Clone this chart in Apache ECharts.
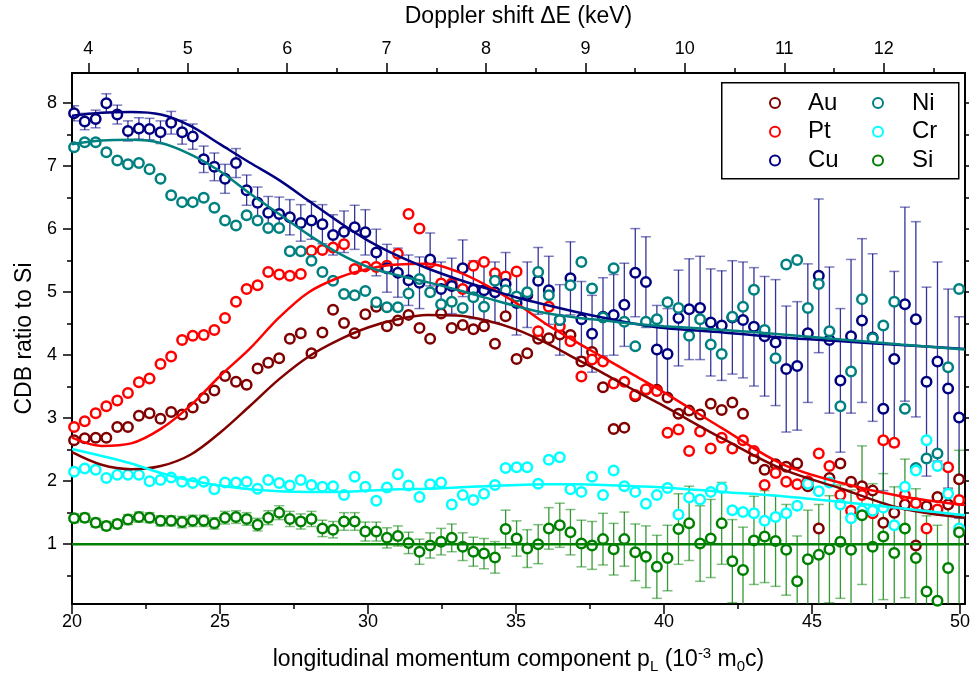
<!DOCTYPE html>
<html><head><meta charset="utf-8">
<script src="https://cdn.jsdelivr.net/npm/echarts@6/dist/echarts.min.js"></script>
<style>html,body{margin:0;padding:0;background:#fff}#c{width:973px;height:679px}</style>
</head><body><div id="c"></div>
<script>
// longitudinal momentum (10^-3 m0c) of each measured point
const pL = [20.07,20.43,20.80,21.16,21.53,21.89,22.26,22.62,22.99,23.35,23.72,24.08,24.45,24.81,25.17,25.54,25.90,26.27,26.63,27.00,
  27.36,27.73,28.09,28.46,28.82,29.19,29.55,29.91,30.28,30.64,31.01,31.37,31.74,32.10,32.47,32.83,33.20,33.56,33.92,34.29,
  34.65,35.02,35.38,35.75,36.11,36.48,36.84,37.21,37.57,37.94,38.30,38.66,39.03,39.39,39.76,40.12,40.49,40.85,41.22,41.58,
  41.95,42.31,42.67,43.04,43.40,43.77,44.13,44.50,44.86,45.23,45.59,45.96,46.32,46.69,47.05,47.41,47.78,48.14,48.51,48.87,
  49.24,49.60,49.97];
const au = [2.65,2.68,2.69,2.69,2.86,2.86,3.04,3.08,2.99,3.10,3.06,3.17,3.32,3.44,3.67,3.58,3.53,3.79,3.88,3.95,
  4.26,4.35,4.03,4.36,4.72,4.51,4.35,4.65,4.77,4.46,4.55,4.64,4.43,4.26,4.66,4.43,4.48,4.41,4.46,4.18,
  4.62,3.94,4.03,4.26,4.27,4.33,4.32,3.90,4.05,3.49,2.83,2.85,3.35,3.45,3.45,3.33,3.07,3.12,3.06,3.23,
  3.13,3.25,3.07,2.36,2.18,2.27,2.23,2.28,1.92,1.25,2.05,2.28,1.99,1.92,1.85,1.34,1.50,1.63,0.98,1.60,
  1.75,1.63,2.03];
const pt = [2.86,2.95,3.08,3.19,3.28,3.40,3.57,3.63,3.86,3.98,4.24,4.31,4.32,4.40,4.59,4.85,5.05,5.11,5.32,5.28,
  5.26,5.29,5.66,5.67,5.71,5.76,5.37,5.41,5.40,5.42,5.61,6.24,6.01,5.47,5.14,5.14,5.05,5.42,5.48,5.30,
  5.25,5.33,4.95,4.38,4.77,4.46,4.22,3.66,3.93,3.90,3.55,3.58,3.37,3.46,3.43,2.77,2.82,2.48,2.79,2.52,
  2.69,2.52,2.65,2.48,1.94,2.13,1.99,1.95,2.00,2.44,2.24,1.78,1.53,1.78,1.49,2.65,2.61,1.78,1.65,1.25,
  1.55,2.22,1.70];
const cu = [7.84,7.71,7.75,8.00,7.82,7.56,7.60,7.59,7.54,7.69,7.54,7.47,7.11,6.99,6.80,7.05,6.62,6.42,6.26,6.24,
  6.19,6.10,6.14,6.08,5.91,5.96,6.03,5.95,5.63,5.38,5.31,5.19,5.15,5.52,5.05,5.10,5.38,5.04,5.03,5.00,
  5.13,4.83,4.96,5.18,5.03,4.56,5.22,4.57,4.34,4.61,4.64,4.80,5.31,5.16,4.09,4.02,4.59,4.73,4.75,4.52,
  4.47,4.60,4.56,4.45,4.30,4.20,3.78,3.83,4.35,5.26,4.24,3.60,4.30,4.55,4.28,3.15,3.94,4.81,4.57,3.58,
  3.90,3.47,3.01];
const cuErr = [0.12,0.13,0.14,0.15,0.15,0.16,0.17,0.17,0.18,0.18,0.19,0.20,0.21,0.22,0.23,0.23,0.24,0.25,0.26,0.27,
  0.28,0.29,0.30,0.31,0.32,0.33,0.35,0.36,0.37,0.38,0.39,0.40,0.41,0.42,0.43,0.44,0.45,0.46,0.47,0.48,
  0.50,0.51,0.52,0.53,0.54,0.56,0.58,0.60,0.61,0.62,0.64,0.66,0.70,0.72,0.70,0.72,0.76,0.80,0.82,0.85,
  0.87,0.90,0.92,0.94,0.95,1.00,1.00,1.02,1.10,1.22,1.16,1.14,1.22,1.30,1.33,1.30,1.39,1.54,1.55,1.50,
  1.58,1.58,1.60];
const ni = [7.30,7.38,7.38,7.22,7.09,7.03,7.05,6.95,6.80,6.54,6.43,6.43,6.50,6.34,6.14,6.06,6.22,6.14,6.02,6.02,
  5.65,5.65,5.50,5.32,5.18,4.97,4.95,5.02,4.84,4.76,4.76,4.98,5.21,5.00,4.81,4.85,4.75,4.92,4.77,5.18,
  5.03,4.93,5.00,5.32,4.95,4.56,5.11,5.48,5.06,4.60,5.38,4.53,4.14,4.53,4.57,4.84,4.75,4.31,4.57,4.17,
  4.02,4.61,4.77,5.04,4.40,3.95,5.44,5.51,4.75,5.13,4.38,3.19,3.74,4.89,4.27,4.47,4.85,3.15,2.21,2.36,
  2.44,3.81,5.05];
const cr = [2.15,2.20,2.18,2.05,2.10,2.10,2.10,2.00,2.02,2.06,1.99,1.97,1.99,1.87,1.98,1.98,1.99,1.88,2.02,1.97,
  1.93,2.02,1.94,1.91,1.92,1.78,2.07,1.91,1.69,1.90,2.11,1.93,1.75,1.95,1.98,1.63,1.78,1.70,1.80,1.94,
  2.21,2.22,2.22,1.96,2.34,2.38,1.87,1.83,2.07,1.78,2.17,1.92,1.83,1.64,1.78,1.89,1.47,1.74,1.71,1.83,
  1.89,1.54,1.51,1.49,1.37,1.43,1.49,1.61,1.96,1.84,1.98,1.63,1.41,1.54,1.53,1.58,1.30,1.91,2.17,2.65,
  2.24,1.80,1.25];
const si = [1.41,1.42,1.34,1.29,1.32,1.39,1.43,1.42,1.37,1.37,1.35,1.37,1.37,1.33,1.42,1.43,1.40,1.31,1.42,1.50,
  1.40,1.36,1.40,1.25,1.23,1.36,1.36,1.20,1.20,1.10,1.13,1.02,0.88,0.98,1.04,1.10,0.96,0.88,0.85,0.79,
  1.24,1.09,0.93,1.00,1.25,1.30,1.19,1.01,0.98,1.08,0.92,1.08,0.87,0.80,0.64,0.78,1.24,1.33,1.01,1.09,
  1.33,0.73,0.59,1.06,1.12,1.05,0.91,0.41,0.76,0.83,0.92,1.04,0.91,1.46,0.96,1.12,0.86,1.25,0.78,0.25,
  0.10,0.62,1.19];
const siErr = [0.07,0.07,0.07,0.07,0.07,0.08,0.08,0.08,0.08,0.08,0.09,0.09,0.09,0.09,0.10,0.10,0.10,0.10,0.11,0.11,
  0.12,0.12,0.12,0.13,0.13,0.14,0.14,0.15,0.15,0.16,0.16,0.17,0.20,0.20,0.21,0.22,0.22,0.23,0.24,0.25,
  0.30,0.28,0.30,0.31,0.33,0.35,0.36,0.37,0.38,0.41,0.41,0.43,0.45,0.49,0.50,0.52,0.56,0.59,0.60,0.62,
  0.65,0.66,0.68,0.70,0.73,0.72,0.72,0.72,0.78,0.80,0.85,0.90,0.95,1.10,1.00,1.00,1.05,1.10,1.10,1.20,
  1.20,1.25,1.30];

// fitted curves, sampled along pL
const fitX  = [20,21,22,23,24,25,26,27,28,29,30,31,32,33,34,35,36,37,38,39,40,42,44,46,48,50.17];
const auFit = [2.46,2.26,2.19,2.24,2.42,2.77,3.19,3.62,3.98,4.24,4.44,4.57,4.64,4.63,4.55,4.41,4.20,3.95,3.70,3.44,3.19,2.67,2.19,1.88,1.57,1.42];
const ptFit = [2.69,2.56,2.60,2.83,3.20,3.67,4.10,4.60,5.00,5.23,5.37,5.44,5.45,5.33,5.11,4.83,4.50,4.22,3.95,3.68,3.41,2.83,2.27,1.97,1.76,1.62];
const cuFit = [7.80,7.85,7.86,7.82,7.64,7.35,7.06,6.78,6.45,6.12,5.82,5.58,5.38,5.21,5.06,4.92,4.80,4.69,4.59,4.50,4.43,4.36,4.28,4.22,4.16,4.10];
const niFit = [7.35,7.41,7.42,7.37,7.19,6.92,6.57,6.24,5.91,5.62,5.40,5.27,5.16,5.04,4.91,4.78,4.67,4.60,4.55,4.50,4.46,4.40,4.33,4.25,4.17,4.09];
const crFit = [2.51,2.40,2.28,2.13,2.01,1.93,1.87,1.84,1.83,1.83,1.85,1.87,1.88,1.90,1.92,1.94,1.95,1.95,1.94,1.92,1.90,1.83,1.76,1.67,1.57,1.46];
const siFitX = [20,50.17];
const siFit = [1,1];

// axis ticks
const xTicks = [20,25,30,35,40,45,50];
const xMinor = [22.5,27.5,32.5,37.5,42.5,47.5];
const keVTicks = [4,5,6,7,8,9,10,11,12];
const keVMinor = [4.5,5.5,6.5,7.5,8.5,9.5,10.5,11.5,12.5];
const yTicks = [1,2,3,4,5,6,7,8];
const yMinor = [0.5,1.5,2.5,3.5,4.5,5.5,6.5,7.5];
const yRight = [0.5,1,1.5,2,2.5,3,3.5,4,4.5,5,5.5,6,6.5,7,7.5,8];

const names = ['Au','Pt','Cu','Ni','Cr','Si'];
const colors = {Au:'#800000', Pt:'#ff0000', Cu:'#000080', Ni:'#008080', Cr:'#00ffff', Si:'#008000'};
const pts = {Au:au, Pt:pt, Cu:cu, Ni:ni, Cr:cr, Si:si};
const fits = {Au:auFit, Pt:ptFit, Cu:cuFit, Ni:niFit, Cr:crFit};

const FONT = 'Liberation Sans, Arial, sans-serif';
const zip = (xs, ys) => xs.map((x, i) => [x, ys[i]]);

function errSeries(name, ys, errs, color, capColor) {
  return {
    type: 'custom', name: name, clip: true, z: 2,
    encode: {x: 0, y: [1, 2]},
    data: pL.map((x, i) => [x, ys[i] - errs[i], ys[i] + errs[i]]),
    renderItem: function (params, api) {
      const x = api.value(0), lo = api.value(1), hi = api.value(2);
      const a = api.coord([x, hi]), b = api.coord([x, lo]);
      const w = 5;
      return {type: 'group', children: [
        {type: 'line', shape: {x1: a[0], y1: a[1], x2: b[0], y2: b[1]}, style: {stroke: color, lineWidth: 1.3}},
        {type: 'line', shape: {x1: a[0] - w, y1: a[1], x2: a[0] + w, y2: a[1]}, style: {stroke: capColor, lineWidth: 1.5}},
        {type: 'line', shape: {x1: b[0] - w, y1: b[1], x2: b[0] + w, y2: b[1]}, style: {stroke: capColor, lineWidth: 1.5}}
      ]};
    }
  };
}

const series = [];
series.push(errSeries('Cu err', cu, cuErr, 'rgba(0,0,128,0.8)', 'rgba(0,0,128,0.5)'));
series.push(errSeries('Si err', si, siErr, 'rgba(0,128,0,0.8)', 'rgba(0,128,0,0.5)'));
names.forEach(n => {
  series.push({
    type: 'scatter', name: n, z: 3,
    data: zip(pL, pts[n]),
    symbol: 'circle', symbolSize: 9.5,
    itemStyle: {color: '#fff', borderColor: colors[n], borderWidth: 2.5, opacity: 1}
  });
});
names.forEach(n => {
  if (!fits[n]) return;
  series.push({
    type: 'line', name: n + ' fit', z: 4,
    data: zip(fitX, fits[n]), smooth: 0.35, showSymbol: false,
    lineStyle: {color: colors[n], width: 2.5}, itemStyle: {color: colors[n]}
  });
});
series.push({
  type: 'line', name: 'Si fit', z: 4, data: zip(siFitX, siFit), showSymbol: false,
  lineStyle: {color: colors.Si, width: 2.5}
});

const axisLine = {show: true, lineStyle: {color: '#000', width: 2}};
const tickStyle = {color: '#000', width: 1.5};
const TICKFS = 18, TITLEFS = 23;

const option = {
  animation: false,
  backgroundColor: '#fff',
  textStyle: {fontFamily: FONT},
  grid: {left: 72, right: 8, top: 72, bottom: 74, containLabel: false},
  xAxis: [
    {type: 'value', position: 'bottom', min: 20, max: 50.17,
     axisLine: axisLine, splitLine: {show: false},
     axisTick: {show: true, inside: false, length: 10, lineStyle: tickStyle, customValues: xTicks},
     axisLabel: {show: true, margin: 9, fontSize: TICKFS, color: '#000', fontFamily: FONT, customValues: xTicks},
     name: '{a|longitudinal momentum component p}{sub|L}{a| (10}{sup|-3}{a| m}{sub|0}{a|c)}',
     nameLocation: 'middle', nameGap: 42,
     nameTextStyle: {fontSize: TITLEFS, color: '#000', fontFamily: FONT, rich: {
       a: {fontSize: TITLEFS, color: '#000', fontFamily: FONT},
       sub: {fontSize: 15, color: '#000', fontFamily: FONT, padding: [13, 0, 0, 0]},
       sup: {fontSize: 15, color: '#000', fontFamily: FONT, padding: [0, 0, 13, 0]}
     }}},
    {type: 'value', position: 'bottom', min: 20, max: 50.17,
     axisLine: {show: false}, splitLine: {show: false}, axisLabel: {show: false},
     axisTick: {show: true, inside: false, length: 5, lineStyle: tickStyle, customValues: xMinor}},
    {type: 'value', position: 'top', min: 3.836, max: 12.818,
     axisLine: axisLine, splitLine: {show: false},
     axisTick: {show: true, inside: false, length: 10, lineStyle: tickStyle, customValues: keVTicks},
     axisLabel: {show: true, margin: 15, fontSize: TICKFS, color: '#000', fontFamily: FONT, customValues: keVTicks},
     name: 'Doppler shift \u0394E (keV)', nameLocation: 'middle', nameGap: 45,
     nameTextStyle: {fontSize: TITLEFS, color: '#000', fontFamily: FONT}},
    {type: 'value', position: 'top', min: 3.836, max: 12.818,
     axisLine: {show: false}, splitLine: {show: false}, axisLabel: {show: false},
     axisTick: {show: true, inside: false, length: 5, lineStyle: tickStyle, customValues: keVMinor}}
  ],
  yAxis: [
    {type: 'value', position: 'left', min: 0.05, max: 8.48,
     axisLine: axisLine, splitLine: {show: false},
     axisTick: {show: true, inside: false, length: 9, lineStyle: tickStyle, customValues: yTicks},
     axisLabel: {show: true, margin: 15, fontSize: TICKFS, color: '#000', fontFamily: FONT, customValues: yTicks},
     name: 'CDB ratio to Si', nameLocation: 'middle', nameGap: 33,
     nameTextStyle: {fontSize: TITLEFS, color: '#000', fontFamily: FONT}},
    {type: 'value', position: 'left', min: 0.05, max: 8.48,
     axisLine: {show: false}, splitLine: {show: false}, axisLabel: {show: false},
     axisTick: {show: true, inside: false, length: 5, lineStyle: tickStyle, customValues: yMinor}},
    {type: 'value', position: 'right', min: 0.05, max: 8.48,
     axisLine: axisLine, splitLine: {show: false}, axisLabel: {show: false},
     axisTick: {show: true, inside: false, length: 4, lineStyle: tickStyle, customValues: yRight}}
  ],
  legend: [
    {data: ['Au', 'Pt', 'Cu'], orient: 'vertical', left: 764, top: 86,
     itemWidth: 10, itemHeight: 10, itemGap: 4.7, selectedMode: false,
     textStyle: {fontSize: 24, lineHeight: 24, color: '#000', fontFamily: FONT, padding: [0, 0, 0, 23]}},
    {data: ['Ni', 'Cr', 'Si'], orient: 'vertical', left: 867, top: 86,
     itemWidth: 10, itemHeight: 10, itemGap: 4.7, selectedMode: false,
     textStyle: {fontSize: 24, lineHeight: 24, color: '#000', fontFamily: FONT, padding: [0, 0, 0, 24]}}
  ],
  graphic: [
    {type: 'rect', left: 721, top: 82, z: 0,
     shape: {width: 237, height: 96}, style: {fill: '#fff', stroke: '#000', lineWidth: 1.5}}
  ],
  series: series
};

const chart = echarts.init(document.getElementById('c'), null, {renderer: 'canvas'});
chart.setOption(option);
</script></body></html>
